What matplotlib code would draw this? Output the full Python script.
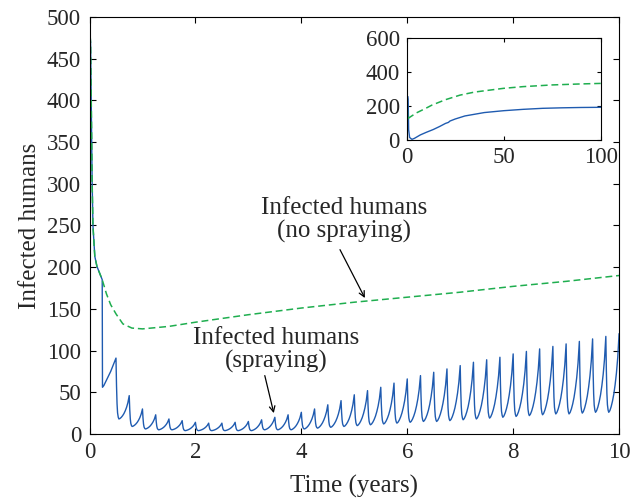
import numpy as np
import matplotlib.pyplot as plt

plt.rcParams['font.family'] = ['Liberation Serif', 'DejaVu Serif']

# both runs share the start (no difference until the first spraying)
t_start = [0, 0.02, 0.035, 0.05, 0.065, 0.10, 0.14, 0.24]
y_start = [490, 469, 389, 301, 250, 213, 201, 185]

# no spraying
t_nospray = [0.32, 0.40, 0.50, 0.63, 0.80, 1.0, 1.5, 2, 3, 4, 5, 6, 7, 8, 9, 10]
y_nospray = [168, 155, 144, 132, 127, 126, 129, 134, 143, 151, 158, 164, 170, 177, 183, 190]

# spraying: first drop, then one tooth per quarter year
t_drop = [0.245, 0.27, 0.40]
y_drop = [56, 58, 75]
t_peaks = np.arange(0.5, 10.01, 0.25)
peaks = [91, 46, 30, 23, 18, 16, 14, 13, 13, 14, 15, 17, 20, 23, 26, 30, 35, 40, 47,
         52, 56, 61, 66, 70, 74, 78, 82, 86, 89, 92, 96, 99, 102, 105, 108, 111, 114, 117, 120]
troughs = [18, 9, 6, 5, 5, 4, 4, 4, 4, 4, 4, 5, 5, 5, 6, 7, 8, 9, 10,
           11, 12, 13, 14, 15, 15, 16, 17, 18, 19, 20, 21, 22, 23, 24, 24, 25, 26, 26]
# shape of one tooth (phase in period, fraction of height)
fall_phase = [0, 0.04, 0.08, 0.12, 0.17, 0.22]
fall_frac = [1, 0.55, 0.25, 0.1, 0.03, 0]
rise_phase = [0.3, 0.4, 0.5, 0.6, 0.7, 0.8, 0.9]
rise_frac = [0.02, 0.07, 0.14, 0.23, 0.35, 0.5, 0.7]

# inset, 0-100 years
ti_nospray = [0, 0.3, 0.5, 1, 3, 5, 10, 13, 20, 27.5, 35, 50, 60, 75, 90, 100]
yi_nospray = [490, 200, 118, 130, 145, 160, 188, 206, 238, 265, 283, 305, 315, 325, 331, 334]
ti_spray = [0.6, 0.75, 1.0, 1.5, 2.7, 4, 7, 10, 13.7, 17, 20, 21.5, 22.3, 25, 30, 40, 50, 60, 70, 80, 90, 100]
yi_spray = [255, 240, 60, 15, 4, 10, 30, 45, 62, 80, 98, 104, 112, 124, 142, 162, 173, 181, 187, 190, 192, 193]

blue = '#1f5bb0'
green = '#1fae4f'
txt = '#262626'

tb = list(t_start) + t_drop
yb = list(y_start) + y_drop
for k in range(len(troughs)):
    p, q, tr, t0 = peaks[k], peaks[k + 1], troughs[k], t_peaks[k]
    for ph, f in zip(fall_phase, fall_frac):
        tb.append(t0 + ph * 0.25)
        yb.append(tr + f * (p - tr))
    for ph, f in zip(rise_phase, rise_frac):
        tb.append(t0 + ph * 0.25)
        yb.append(tr + f * (q - tr))
tb.append(t_peaks[-1])
yb.append(peaks[-1])

tg = list(t_start) + t_nospray
yg = list(y_start) + y_nospray

fig = plt.figure(figsize=(6.33, 4.99), dpi=100)
ax = fig.add_axes([0.1414, 0.1303, 0.8366, 0.8357])
ax.plot(tb, yb, color=blue, lw=1.0)
ax.plot(tg, yg, color=green, lw=1.1, ls=(0, (4.5, 2.5)))

ax.set_xlim(0, 10)
ax.set_ylim(0, 500)
ax.set_xticks(range(0, 11, 2))
ax.set_yticks(range(0, 501, 50))
ax.tick_params(direction='in', top=True, right=True, length=4, width=0.8,
               labelsize=16.5, labelcolor=txt, pad=6)
ax.set_xlabel('Time (years)', fontsize=18, color=txt, labelpad=8)
ax.set_ylabel('Infected humans', fontsize=18, color=txt, labelpad=4)

ax.text(4.8, 229, 'Infected humans\n(no spraying)', ha='center', va='bottom',
        fontsize=18, color=txt, linespacing=1.05)
ax.annotate('', xy=(5.2, 163), xytext=(4.73, 221),
            arrowprops=dict(arrowstyle='->', color='k', lw=0.9, shrinkA=0, shrinkB=0))
ax.text(3.52, 73, 'Infected humans\n(spraying)', ha='center', va='bottom',
        fontsize=18, color=txt, linespacing=1.05)
ax.annotate('', xy=(3.48, 25), xytext=(3.31, 70),
            arrowprops=dict(arrowstyle='->', color='k', lw=0.9, shrinkA=0, shrinkB=0))

ins = fig.add_axes([0.6425, 0.7194, 0.3065, 0.2038])
ins.plot(ti_spray, yi_spray, color=blue, lw=1.0)
ins.plot(ti_nospray, yi_nospray, color=green, lw=1.1, ls=(0, (4.5, 2.5)))
ins.set_xlim(0, 100)
ins.set_ylim(0, 600)
ins.set_xticks([0, 50, 100])
ins.set_yticks([0, 200, 400, 600])
ins.tick_params(direction='in', top=True, right=True, length=3, width=0.8,
                labelsize=16.5, labelcolor=txt, pad=5)

plt.savefig('out.png', dpi=100)
